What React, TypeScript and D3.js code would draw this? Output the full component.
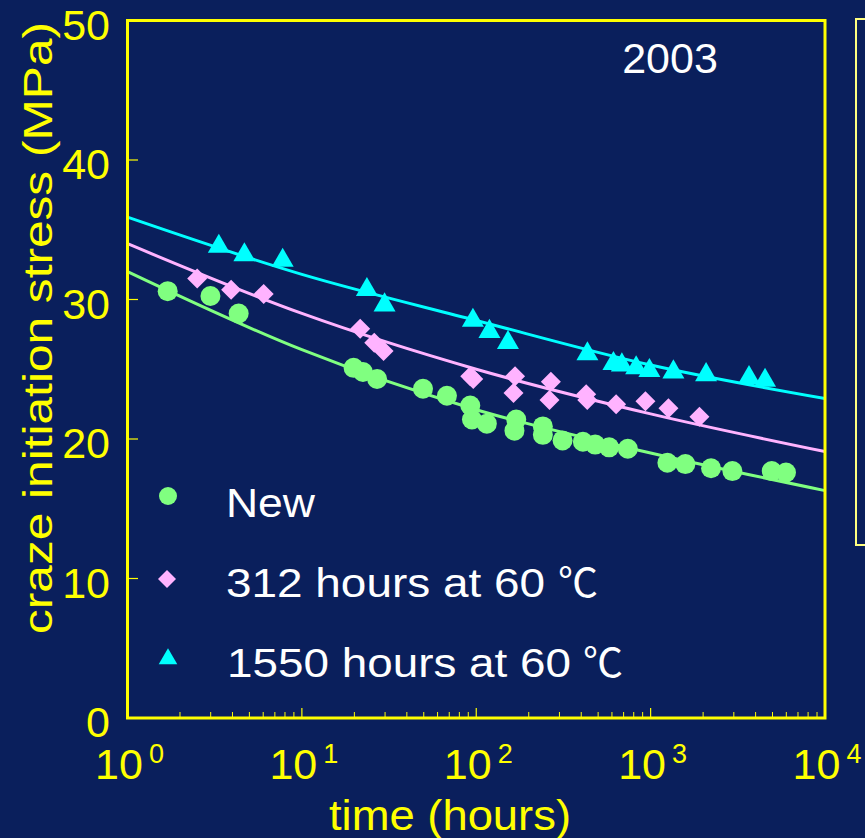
import { useMemo } from "react"
import * as d3 from "d3"

// measured series (time in hours, stress in MPa)
const newTime = [1.7, 2.99, 4.34, 19.8, 22.4, 27.0, 49.5, 67.9, 92.4, 94.5, 115, 169.5, 165.6, 241, 241, 312.6, 409, 481, 578, 740, 1248, 1582, 2221, 2944, 4950, 5974]
const newStress = [30.6, 30.25, 29.0, 25.1, 24.8, 24.3, 23.6, 23.1, 22.4, 21.4, 21.1, 21.4, 20.6, 20.9, 20.3, 19.9, 19.8, 19.6, 19.4, 19.3, 18.3, 18.2, 17.9, 17.7, 17.7, 17.6]

const aged312Time = [2.51, 3.93, 6.04, 21.6, 26.0, 29.4, 92.4, 96.1, 167, 163.6, 268, 263, 427, 433, 634, 934, 1265, 1905]
const aged312Stress = [31.5, 30.7, 30.4, 27.9, 26.9, 26.3, 24.5, 24.3, 24.5, 23.3, 24.1, 22.8, 23.2, 22.8, 22.5, 22.7, 22.2, 21.6]

const aged1550Time = [3.34, 4.68, 7.76, 23.6, 29.8, 95.7, 119, 152, 434, 612, 684, 826, 984, 1351, 2080, 3666, 4531]
const aged1550Stress = [33.8, 33.2, 32.8, 30.7, 29.6, 28.5, 27.7, 26.9, 26.1, 25.4, 25.3, 25.1, 24.9, 24.8, 24.6, 24.4, 24.2]

// fitted curves at each decade
const fitTime = [1, 10, 100, 1000, 10000]
const fitNew = [32.0, 26.4, 22.1, 19.0, 16.3]
const fit312 = [34.0, 29.0, 25.0, 21.8, 19.1]
const fit1550 = [35.9, 31.8, 28.5, 25.3, 22.9]

const yTicks = [0, 10, 20, 30, 40, 50]
const decades = [0, 1, 2, 3, 4]
const legendLabels = ["New", "312 hours at 60", "1550 hours at 60"]
const legendUnit = "\u2103"

const BG = "#0a1f5c"
const YELLOW = "#ffff00"
const GREEN = "#80ff80"
const PINK = "#ffb3ff"
const CYAN = "#00ffff"
const FONT = "'Liberation Sans', Arial, sans-serif"

export default function App() {
  const width = 865
  const height = 838
  const x = d3.scaleLog().domain([1, 1e4]).range([127.5, 825])
  const y = d3.scaleLinear().domain([0, 50]).range([718, 20.5])

  const line = d3
    .line<[number, number]>()
    .x((d) => x(d[0]))
    .y((d) => y(d[1]))
    .curve(d3.curveMonotoneX)

  const minorTicks = useMemo(() => {
    const out: number[] = []
    for (let e = 0; e < 4; e++) for (let m = 2; m <= 9; m++) out.push(m * Math.pow(10, e))
    return out
  }, [])

  const zip = (a: number[], b: number[]) => a.map((v, i) => [v, b[i]] as [number, number])

  const triangle = d3.symbol().type(d3.symbolTriangle).size(210)()
  const legendTriangle = d3.symbol().type(d3.symbolTriangle).size(150)()

  const diamond = (cx: number, cy: number, r: number) =>
    `M${cx},${cy - r}L${cx + r},${cy}L${cx},${cy + r}L${cx - r},${cy}Z`

  const legendX = [226, 226, 227]
  const legendLen = [89, 319, 344]
  const legendUnitX = [0, 558, 583]

  return (
    <svg
      width={width}
      height={height}
      style={{ position: "absolute", left: 0, top: 0, display: "block", background: BG }}
      fontFamily={FONT}
    >
      <rect x={0} y={0} width={width} height={height} fill={BG} />

      {/* partial panel on the right */}
      <rect x={856} y={19} width={40} height={526} fill="none" stroke="#ffff80" strokeWidth={2} />

      {/* fitted lines */}
      <path d={line(zip(fitTime, fitNew))!} fill="none" stroke={GREEN} strokeWidth={3} />
      <path d={line(zip(fitTime, fit312))!} fill="none" stroke={PINK} strokeWidth={3} />
      <path d={line(zip(fitTime, fit1550))!} fill="none" stroke={CYAN} strokeWidth={3} />

      {/* markers */}
      {zip(newTime, newStress).map((d, i) => (
        <circle key={"n" + i} cx={x(d[0])} cy={y(d[1])} r={10} fill={GREEN} />
      ))}
      {zip(aged312Time, aged312Stress).map((d, i) => (
        <path key={"p" + i} d={diamond(x(d[0]), y(d[1]), 10)} fill={PINK} />
      ))}
      {zip(aged1550Time, aged1550Stress).map((d, i) => (
        <path key={"c" + i} d={triangle!} transform={`translate(${x(d[0])},${y(d[1])})`} fill={CYAN} />
      ))}

      {/* ticks */}
      {minorTicks.map((t) => (
        <line key={"mt" + t} x1={x(t)} x2={x(t)} y1={718} y2={712} stroke={YELLOW} strokeWidth={1} />
      ))}
      {decades.map((e) => (
        <line key={"Mt" + e} x1={x(Math.pow(10, e))} x2={x(Math.pow(10, e))} y1={718} y2={708} stroke={YELLOW} strokeWidth={1.2} />
      ))}
      {yTicks.map((t) => (
        <line key={"yt" + t} x1={127.5} x2={138} y1={y(t)} y2={y(t)} stroke={YELLOW} strokeWidth={1.2} />
      ))}

      {/* plot frame */}
      <rect x={127.5} y={20.5} width={697.5} height={697.5} fill="none" stroke={YELLOW} strokeWidth={3} />

      {/* y tick labels */}
      {yTicks.map((t) => (
        <text key={"yl" + t} x={110} y={y(t) + 19} textAnchor="end" fontSize={43} fill={YELLOW}>
          {t}
        </text>
      ))}

      {/* x tick labels */}
      {decades.map((e) => (
        <text key={"xl" + e} x={x(Math.pow(10, e)) + 2} y={779} textAnchor="middle" fontSize={43} fill={YELLOW}>
          10
          <tspan dx={6} dy={-16} fontSize={27}>
            {e}
          </tspan>
        </text>
      ))}

      {/* axis titles */}
      <text x={450} y={830} textAnchor="middle" fontSize={42} fill={YELLOW} textLength={242} lengthAdjust="spacingAndGlyphs">
        time (hours)
      </text>
      <text
        transform="translate(52,328) rotate(-90)"
        textAnchor="middle"
        fontSize={40}
        fill={YELLOW}
        textLength={612}
        lengthAdjust="spacingAndGlyphs"
      >
        craze initiation stress (MPa)
      </text>

      <text x={670} y={73} textAnchor="middle" fontSize={43} fill="#ffffff">
        2003
      </text>

      {/* legend */}
      <circle cx={168} cy={496} r={9} fill={GREEN} />
      <path d={diamond(167, 579, 9)} fill={PINK} />
      <path d={legendTriangle!} transform="translate(168,659)" fill={CYAN} />
      {legendLabels.map((l, i) => (
        <g key={l}>
          <text
            x={legendX[i]}
            y={517 + i * 80}
            fontSize={40}
            fill="#ffffff"
            textLength={legendLen[i]}
            lengthAdjust="spacingAndGlyphs"
          >
            {l}
          </text>
          {i > 0 && (
            <text
              x={legendUnitX[i]}
              y={517 + i * 80}
              fontSize={40}
              fill="#ffffff"
              fontFamily="'Noto Sans CJK SC', sans-serif"
            >
              {legendUnit}
            </text>
          )}
        </g>
      ))}
    </svg>
  )
}
